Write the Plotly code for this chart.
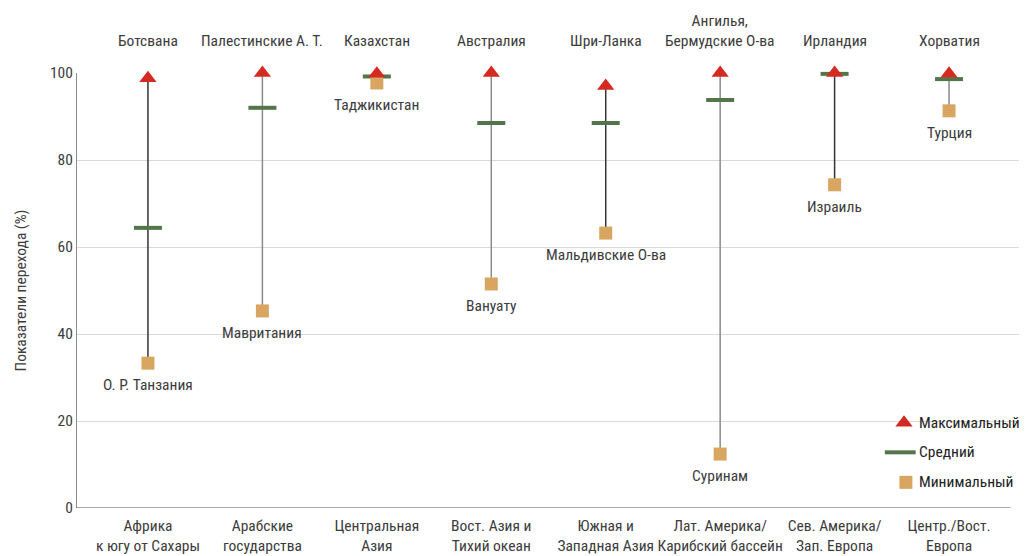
import plotly.graph_objects as go

regions = ["Африка<br>к югу от Сахары", "Арабские<br>государства", "Центральная<br>Азия",
           "Вост. Азия и<br>Тихий океан", "Южная и<br>Западная Азия", "Лат. Америка/<br>Карибский бассейн",
           "Сев. Америка/<br>Зап. Европа", "Центр./Вост.<br>Европа"]
max_vals = [98.8, 100.0, 99.8, 100.0, 97.0, 100.0, 100.0, 99.8]
mean_vals = [64.4, 92.0, 99.2, 88.5, 88.5, 93.8, 99.8, 98.6]
min_vals = [33.3, 45.3, 97.7, 51.5, 63.2, 12.4, 74.3, 91.3]
max_countries = ["Ботсвана", "Палестинские А. Т.", "Казахстан", "Австралия", "Шри-Ланка",
                 "Ангилья,<br>Бермудские О-ва", "Ирландия", "Хорватия"]
min_countries = ["О. Р. Танзания", "Мавритания", "Таджикистан", "Вануату", "Мальдивские О-ва",
                 "Суринам", "Израиль", "Турция"]
legend_names = ["Максимальный", "Средний", "Минимальный"]

FONT = "Roboto Condensed, Liberation Sans Narrow, Roboto, sans-serif"
TXT = "#3c3c3c"
FS = 15.5
C_MAX, C_MEAN, C_MIN = "#d42a22", "#52754a", "#d9a662"
line_colors = ["#333333", "#8a8a8a", "#8a8a8a", "#8a8a8a", "#333333", "#8a8a8a", "#333333", "#8a8a8a"]

x = list(range(len(regions)))
fig = go.Figure()

for i in x:
    fig.add_trace(go.Scatter(x=[i, i], y=[min_vals[i], max_vals[i]], mode="lines",
                             line=dict(color=line_colors[i], width=1.5), cliponaxis=False,
                             showlegend=False, hoverinfo="skip"))

fig.add_trace(go.Scatter(x=x, y=mean_vals, mode="markers", name="Средний", cliponaxis=False,
                         marker=dict(symbol="line-ew", size=20, line=dict(color=C_MEAN, width=4)),
                         showlegend=False))
fig.add_trace(go.Scatter(x=x, y=min_vals, mode="markers", name="Минимальный", cliponaxis=False,
                         marker=dict(symbol="square", size=13, color=C_MIN), showlegend=False))
fig.add_trace(go.Scatter(x=x, y=max_vals, mode="markers", name="Максимальный", cliponaxis=False,
                         marker=dict(symbol="triangle-up", size=15, color=C_MAX), showlegend=False))

# manual legend (symbols on an overlay axis spanning the plot area as 0..1)
leg_x = [0.877, 0.873, 0.879]
leg_y = [0.196, 0.128, 0.059]
leg_sym = [dict(symbol="triangle-up", size=15, color=C_MAX),
           dict(symbol="line-ew", size=22, line=dict(color=C_MEAN, width=4)),
           dict(symbol="square", size=13, color=C_MIN)]
for k in range(3):
    fig.add_trace(go.Scatter(x=[leg_x[k]], y=[leg_y[k]], xaxis="x2", yaxis="y2", mode="markers",
                             marker=leg_sym[k], cliponaxis=False, showlegend=False, hoverinfo="skip"))
    fig.add_annotation(x=0.891, y=leg_y[k], xref="paper", yref="paper", text=legend_names[k],
                       showarrow=False, xanchor="left", yanchor="middle",
                       font=dict(family=FONT, size=15.5, color="#222222"))

for i in x:
    fig.add_annotation(x=i, y=1.0, xref="x", yref="paper", text=max_countries[i],
                       showarrow=False, yanchor="bottom", yshift=21,
                       font=dict(family=FONT, size=FS, color=TXT))
    fig.add_annotation(x=i, y=min_vals[i], xref="x", yref="y", text=min_countries[i],
                       showarrow=False, yanchor="middle", yshift=-22,
                       font=dict(family=FONT, size=FS, color=TXT))

fig.update_layout(
    width=1019, height=548,
    margin=dict(l=69, r=7, t=65, b=48),
    plot_bgcolor="white", paper_bgcolor="white",
    font=dict(family=FONT, size=FS, color=TXT),
    showlegend=False,
    xaxis=dict(range=[-0.62, 7.62], tickmode="array", tickvals=x, ticktext=regions,
               showgrid=False, zeroline=False, showline=False, ticks="", automargin=False,
               ticklabelstandoff=6, tickangle=0,
               tickfont=dict(family=FONT, size=FS, color=TXT)),
    yaxis=dict(range=[0, 100], tickvals=[0, 20, 40, 60, 80, 100], showgrid=True,
               gridcolor="#d9d9d9", gridwidth=1, zeroline=False, showline=True,
               linecolor="#8c8c8c", linewidth=1, ticks="", ticklen=0, automargin=False,
               title=dict(text="Показатели перехода (%)", standoff=19,
                          font=dict(family=FONT, size=15.5, color=TXT)),
               tickfont=dict(family=FONT, size=FS, color=TXT)),
    xaxis2=dict(overlaying="x", range=[0, 1], visible=False, fixedrange=True),
    yaxis2=dict(overlaying="y", range=[0, 1], visible=False, fixedrange=True),
)
fig.add_shape(type="line", xref="paper", yref="y", x0=0, x1=0.99, y0=0, y1=0,
              line=dict(color="#8c8c8c", width=1.5))

fig.write_html("out.html")
